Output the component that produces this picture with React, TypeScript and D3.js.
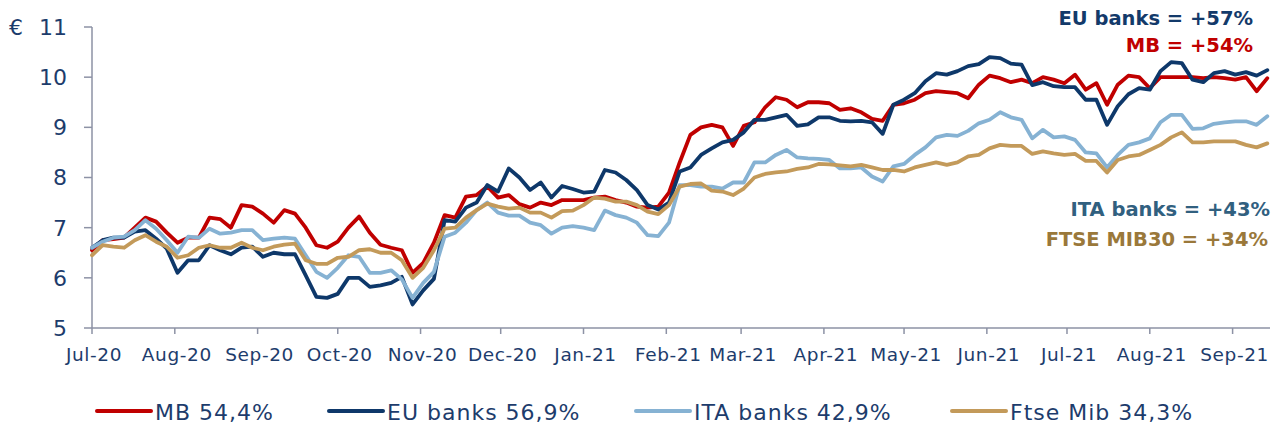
import React from "react";
import * as d3 from "d3";

// ---------- DATA ----------
// sampling grid: every 4 days from 1 Jul 2020
const START_DATE = new Date(2020, 6, 1);
const STEP_DAYS = 4;

const MB = [6.55,6.75,6.77,6.8,7.0,7.2,7.12,6.9,6.7,6.8,6.8,7.2,7.17,7.0,7.45,7.42,7.28,7.1,7.35,7.28,
  7.0,6.65,6.6,6.72,7.0,7.22,6.9,6.66,6.6,6.55,6.1,6.3,6.7,7.25,7.2,7.62,7.65,7.82,7.6,7.65,
  7.47,7.4,7.5,7.45,7.55,7.55,7.55,7.6,7.62,7.55,7.5,7.42,7.4,7.42,7.7,8.3,8.85,9.0,9.05,9.0,
  8.63,9.03,9.1,9.4,9.6,9.55,9.4,9.5,9.5,9.48,9.35,9.38,9.3,9.17,9.13,9.45,9.48,9.55,9.68,9.72,
  9.7,9.68,9.58,9.85,10.03,9.98,9.9,9.95,9.88,10.0,9.95,9.88,10.05,9.75,9.88,9.45,9.85,10.03,10.0,9.78,
  10.0,10.0,10.0,10.0,9.98,10.0,9.98,9.95,10.0,9.72,9.98];

const EU_BANKS = [6.6,6.75,6.8,6.8,6.92,6.95,6.78,6.58,6.1,6.35,6.35,6.65,6.55,6.47,6.6,6.62,6.42,6.5,6.47,6.47,
  6.05,5.62,5.6,5.68,6.0,6.0,5.82,5.85,5.9,6.02,5.47,5.75,5.98,7.15,7.12,7.4,7.5,7.85,7.72,8.18,
  8.0,7.75,7.9,7.6,7.83,7.77,7.7,7.72,8.15,8.1,7.95,7.75,7.45,7.36,7.5,8.12,8.2,8.45,8.58,8.7,
  8.75,8.9,9.15,9.15,9.2,9.25,9.03,9.06,9.2,9.2,9.13,9.12,9.13,9.1,8.87,9.45,9.55,9.68,9.92,10.08,
  10.05,10.12,10.22,10.26,10.4,10.38,10.27,10.25,9.84,9.9,9.82,9.8,9.8,9.55,9.55,9.05,9.42,9.66,9.78,9.75,
  10.12,10.3,10.28,9.95,9.9,10.08,10.12,10.05,10.1,10.03,10.14];

const ITA_BANKS = [6.6,6.72,6.8,6.82,6.95,7.15,6.98,6.75,6.5,6.82,6.8,6.98,6.88,6.9,6.95,6.95,6.75,6.78,6.8,6.78,
  6.45,6.12,6.0,6.2,6.45,6.42,6.1,6.1,6.15,5.97,5.6,5.9,6.12,6.82,6.9,7.1,7.35,7.5,7.3,7.24,
  7.24,7.1,7.05,6.88,7.0,7.03,7.0,6.95,7.34,7.25,7.2,7.1,6.85,6.83,7.1,7.85,7.85,7.82,7.82,7.78,
  7.9,7.9,8.3,8.3,8.45,8.55,8.4,8.38,8.37,8.35,8.18,8.18,8.2,8.02,7.92,8.22,8.27,8.45,8.6,8.8,
  8.85,8.83,8.93,9.08,9.15,9.3,9.2,9.15,8.78,8.95,8.8,8.82,8.75,8.5,8.48,8.2,8.45,8.65,8.7,8.78,
  9.1,9.25,9.25,8.97,8.98,9.07,9.1,9.12,9.12,9.05,9.22];

const FTSE_MIB = [6.45,6.65,6.62,6.6,6.75,6.85,6.72,6.62,6.4,6.45,6.6,6.65,6.6,6.6,6.7,6.6,6.55,6.62,6.66,6.68,
  6.35,6.28,6.28,6.4,6.42,6.55,6.57,6.5,6.5,6.35,6.0,6.2,6.55,6.98,7.0,7.2,7.35,7.48,7.42,7.38,
  7.4,7.3,7.3,7.2,7.33,7.34,7.45,7.6,7.58,7.52,7.52,7.45,7.32,7.27,7.45,7.82,7.87,7.88,7.74,7.72,
  7.65,7.78,8.0,8.07,8.1,8.12,8.17,8.2,8.27,8.26,8.24,8.22,8.25,8.2,8.15,8.15,8.12,8.2,8.25,8.3,
  8.25,8.3,8.42,8.45,8.58,8.65,8.63,8.63,8.47,8.52,8.48,8.45,8.47,8.33,8.33,8.1,8.35,8.42,8.45,8.55,
  8.65,8.8,8.9,8.7,8.7,8.72,8.72,8.72,8.65,8.6,8.68];

const SERIES_NAMES = ["MB", "EU banks", "ITA banks", "Ftse Mib"];
const LEGEND_LABELS = ["MB 54,4%", "EU banks 56,9%", "ITA banks 42,9%", "Ftse Mib 34,3%"];
const ANNOTATIONS = ["EU banks = +57%", "MB = +54%", "ITA banks = +43%", "FTSE MIB30 = +34%"];
const Y_TICKS = [5, 6, 7, 8, 9, 10, 11];
const CURRENCY = "€";

// ---------- STYLE / LAYOUT ----------
const W = 1276, H = 434;
const FONT = "'DejaVu Sans', sans-serif";
const LINE_COLORS = ["#c00000", "#0e386a", "#86b2d3", "#c39a5a"];
const ANNO_COLORS = ["#133a6a", "#c00000", "#31607f", "#9a783a"];
const TEXT_COLOR = "#1d3c6c";
const AXIS_COLOR = "#8d92a5";

export default function App() {
  const allSeries = [MB, EU_BANKS, ITA_BANKS, FTSE_MIB];
  const dates = MB.map((_, i) => d3.timeDay.offset(START_DATE, i * STEP_DAYS));

  const x = d3
    .scaleTime()
    .domain([START_DATE, new Date(2021, 8, 15)])
    .range([92, 1270]);
  const y = d3.scaleLinear().domain([5, 11]).range([328, 27]);

  const line = d3
    .line<number>()
    .x((_, i) => x(dates[i]))
    .y((v) => y(v));

  const monthTicks = d3.timeMonth.range(START_DATE, new Date(2021, 8, 2));
  const fmt = d3.timeFormat("%b-%y");

  const legendStarts = [97, 329, 636, 952];
  const annoLayout = [
    { x: 1253, y: 25 },
    { x: 1253, y: 52 },
    { x: 1270, y: 216 },
    { x: 1268, y: 246 },
  ];

  return (
    <svg
      width={W}
      height={H}
      style={{ position: "absolute", left: 0, top: 0, background: "#fff" }}
      fontFamily={FONT}
    >
      {/* y axis */}
      <line x1={92} x2={92} y1={y(11)} y2={y(5)} stroke={AXIS_COLOR} strokeWidth={1.5} />
      {Y_TICKS.map((t) => (
        <g key={t}>
          <line x1={84} x2={92} y1={y(t)} y2={y(t)} stroke={AXIS_COLOR} strokeWidth={1.5} />
          <text x={67} y={y(t)} dy="0.36em" textAnchor="end" fontSize={22} fill={TEXT_COLOR}>
            {t}
          </text>
        </g>
      ))}
      <text x={9} y={y(11)} dy="0.36em" fontSize={22} fill={TEXT_COLOR}>
        {CURRENCY}
      </text>

      {/* x axis */}
      <line x1={92} x2={1270} y1={y(5)} y2={y(5)} stroke={AXIS_COLOR} strokeWidth={1.5} />
      {monthTicks.map((d) => (
        <g key={+d}>
          <line x1={x(d)} x2={x(d)} y1={y(5)} y2={y(5) + 6} stroke={AXIS_COLOR} strokeWidth={1.5} />
          <text
            x={x(d) + 2}
            y={361}
            textAnchor="middle"
            fontSize={18.5}
            letterSpacing={0.6}
            fill={TEXT_COLOR}
          >
            {fmt(d)}
          </text>
        </g>
      ))}

      {/* lines */}
      {allSeries.map((s, k) => (
        <path
          key={SERIES_NAMES[k]}
          d={line(s) || ""}
          fill="none"
          stroke={LINE_COLORS[k]}
          strokeWidth={3.8}
          strokeLinejoin="round"
          strokeLinecap="round"
        />
      ))}

      {/* annotations */}
      {ANNOTATIONS.map((a, k) => (
        <text
          key={a}
          x={annoLayout[k].x}
          y={annoLayout[k].y}
          textAnchor="end"
          fontSize={19.5}
          fontWeight="bold"
          fill={ANNO_COLORS[k]}
        >
          {a}
        </text>
      ))}

      {/* legend */}
      {LEGEND_LABELS.map((l, k) => (
        <g key={l}>
          <line
            x1={legendStarts[k]}
            x2={legendStarts[k] + 54}
            y1={411}
            y2={411}
            stroke={LINE_COLORS[k]}
            strokeWidth={4}
            strokeLinecap="round"
          />
          <text
            x={legendStarts[k] + 58}
            y={420}
            fontSize={22}
            letterSpacing={1}
            fill={TEXT_COLOR}
          >
            {l}
          </text>
        </g>
      ))}
    </svg>
  );
}
